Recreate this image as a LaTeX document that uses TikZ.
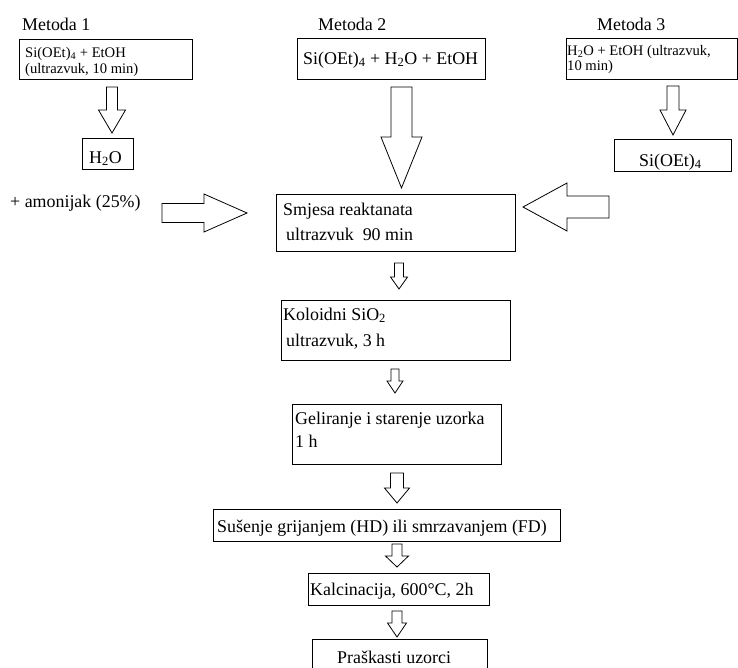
\documentclass[tikz,border=0pt]{standalone}
\usepackage{fontspec}
\setmainfont{Liberation Serif}

\tikzset{
  box/.style={draw, rectangle, line width=1pt, inner sep=0pt, outer sep=0pt, anchor=north west},
  txt/.style={anchor=base west, inner sep=0pt, font=\fontsize{17.9}{20}\selectfont},
  smalltxt/.style={anchor=base west, inner sep=0pt, font=\fontsize{14.6}{16}\selectfont},
  blockline/.style={draw, line width=0.8pt, fill=white, line join=miter}
}

% x, y, angle, length, head length, shaft width, head width
\newcommand{\blockarrow}[7]{%
  \draw[blockline, shift={(#1,#2)}, rotate=#3]
    (0,-#6/2) -- (#4-#5,-#6/2) -- (#4-#5,-#7/2) -- (#4,0)
    -- (#4-#5,#7/2) -- (#4-#5,#6/2) -- (0,#6/2) -- cycle;}

\begin{document}
\begin{tikzpicture}[x=1pt,y=-1pt]
  \useasboundingbox (0,0) rectangle (738,667);

  \node (m1) [txt] at (22,30)  {Metoda 1};
  \node (m2) [txt] at (318,30) {Metoda 2};
  \node (m3) [txt] at (597,30) {Metoda 3};

  % starting mixtures
  \node (b1)    [box, minimum width=173, minimum height=40] at (19,39)  {};
  \node (b2)    [box, minimum width=188, minimum height=41] at (297,38) {};
  \node (b3)    [box, minimum width=171, minimum height=41] at (566,38) {};
  \node (h2o)   [box, minimum width=51,  minimum height=31] at (82,138) {};
  \node (sioet) [box, minimum width=117, minimum height=32] at (614,139) {};

  \node (b1a) [smalltxt] at (25,57)  {Si(OEt)\textsubscript{4} + EtOH};
  \node (b1b) [smalltxt] at (25,73)  {(ultrazvuk, 10 min)};
  \node (b2a) [txt]      at (303,64) {Si(OEt)\textsubscript{4} + H\textsubscript{2}O + EtOH};
  \node (b3a) [smalltxt] at (567,55) {H\textsubscript{2}O + EtOH (ultrazvuk,};
  \node (b3b) [smalltxt] at (567,70) {10 min)};
  \node (h2oa)   [txt] at (89,163)  {H\textsubscript{2}O};
  \node (sioeta) [txt] at (639,166) {Si(OEt)\textsubscript{4}};
  \node (amon)   [txt] at (10,207)  {+ amonijak (25\%)};

  % main line
  \node (smjesa) [box, minimum width=239, minimum height=57] at (276,194) {};
  \node (kolo)   [box, minimum width=229, minimum height=60] at (281,300) {};
  \node (gel)    [box, minimum width=209, minimum height=60] at (292,404) {};
  \node (sus)    [box, minimum width=347, minimum height=32] at (213,509) {};
  \node (kal)    [box, minimum width=181, minimum height=32] at (308,573) {};
  \node (pras)   [box, minimum width=175, minimum height=45] at (312,639) {};

  \node (smjesaa) [txt] at (283,215) {Smjesa reaktanata};
  \node (smjesab) [txt] at (286,240) {ultrazvuk\ \ 90 min};
  \node (koloa)   [txt] at (283,320) {Koloidni SiO\textsubscript{2}};
  \node (kolob)   [txt] at (286,346) {ultrazvuk, 3 h};
  \node (gela)    [txt] at (295,424) {Geliranje i starenje uzorka};
  \node (gelb)    [txt] at (295,447) {1 h};
  \node (susa)    [txt] at (217,532) {Sušenje grijanjem (HD) ili smrzavanjem (FD)};
  \node (kala)    [txt] at (310,595) {Kalcinacija, 600°C, 2h};
  \node (prasa)   [txt] at (337,663) {Praškasti uzorci};

  % block arrows
  \blockarrow{112}{87}{-90}{46}{23}{11}{27}
  \blockarrow{401.5}{87}{-90}{101}{51}{21}{41}
  \blockarrow{673}{86}{-90}{49}{25}{12}{26}
  \blockarrow{162}{213}{0}{85}{43}{19}{38}
  \blockarrow{609}{207}{180}{86}{44}{22}{48}
  \blockarrow{399}{263}{-90}{26}{12}{9}{17}
  \blockarrow{395}{369}{-90}{24}{12}{8}{16}
  \blockarrow{397}{473}{-90}{30}{15}{13}{25}
  \blockarrow{397}{544}{-90}{23}{11}{10}{23}
  \blockarrow{397}{611}{-90}{26}{14}{10}{19}
\end{tikzpicture}
\end{document}
